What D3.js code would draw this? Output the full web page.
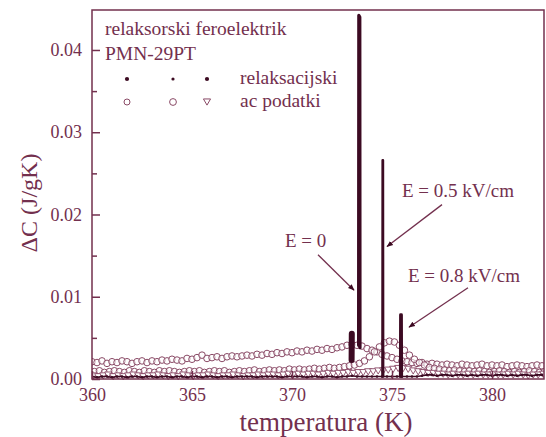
<!DOCTYPE html>
<html lang="sl">
<head>
<meta charset="UTF-8">
<title>relaksorski feroelektrik PMN-29PT</title>
<script src="https://d3js.org/d3.v7.min.js"></script>
<style>
  body { margin: 0; background: #fff; }
  svg text { font-family: "Liberation Serif", "Times New Roman", Tinos, "DejaVu Serif", serif !important; }
</style>
</head>
<body>
<script>
// temperature grid of the measurements (K)
const temps = [
  360, 360.25, 360.5, 360.75,
  361, 361.25, 361.5, 361.75,
  362, 362.25, 362.5, 362.75,
  363, 363.25, 363.5, 363.75,
  364, 364.25, 364.5, 364.75,
  365, 365.25, 365.5, 365.75,
  366, 366.25, 366.5, 366.75,
  367, 367.25, 367.5, 367.75,
  368, 368.25, 368.5, 368.75,
  369, 369.25, 369.5, 369.75,
  370, 370.25, 370.5, 370.75,
  371, 371.25, 371.5, 371.75,
  372, 372.25, 372.5, 372.75,
  373, 373.25, 373.5, 373.75,
  374, 374.25, 374.5, 374.75,
  375, 375.25, 375.5, 375.75,
  376, 376.25, 376.5, 376.75,
  377, 377.25, 377.5, 377.75,
  378, 378.25, 378.5, 378.75,
  379, 379.25, 379.5, 379.75,
  380, 380.25, 380.5, 380.75,
  381, 381.25, 381.5, 381.75,
  382, 382.25, 382.5
];

// ac podatki, E = 0 (circles)
const acE0 = [
  0.0021, 0.0020, 0.0022, 0.0019,
  0.0021, 0.0020, 0.0022, 0.0021,
  0.0019, 0.0021, 0.0022, 0.0020,
  0.0022, 0.0021, 0.0023, 0.0022,
  0.0024, 0.0023, 0.0022, 0.0025,
  0.0024, 0.0026, 0.0029, 0.0025,
  0.0026, 0.0027, 0.0025, 0.0027,
  0.0028, 0.0027, 0.0028, 0.0029,
  0.0028, 0.0030, 0.0029, 0.0031,
  0.0030, 0.0032, 0.0031, 0.0033,
  0.0032, 0.0034, 0.0033, 0.0035,
  0.0034, 0.0036, 0.0035, 0.0037,
  0.0036, 0.0038, 0.0039, 0.0041,
  0.0042, 0.0041, 0.0040, 0.0037,
  0.0035, 0.0033, 0.0030, 0.0028,
  0.0026, 0.0024, 0.0022, 0.0021,
  0.0020, 0.0019, 0.0020, 0.0018,
  0.0019, 0.0018, 0.0017, 0.0018,
  0.0017, 0.0016, 0.0018, 0.0017,
  0.0016, 0.0017, 0.0018, 0.0016,
  0.0017, 0.0016, 0.0017, 0.0015,
  0.0016, 0.0017, 0.0016, 0.0015,
  0.0016, 0.0017, 0.0016
];

// ac podatki, E = 0.5 kV/cm (circles)
const acE05 = [
  0.0009, 0.0010, 0.0008, 0.0009,
  0.0010, 0.0009, 0.0008, 0.0010,
  0.0009, 0.0008, 0.0010, 0.0009,
  0.0008, 0.0010, 0.0009, 0.0010,
  0.0009, 0.0008, 0.0009, 0.0010,
  0.0009, 0.0010, 0.0008, 0.0009,
  0.0010, 0.0009, 0.0010, 0.0008,
  0.0009, 0.0010, 0.0009, 0.0010,
  0.0011, 0.0009, 0.0010, 0.0011,
  0.0010, 0.0011, 0.0010, 0.0012,
  0.0011, 0.0012, 0.0011, 0.0012,
  0.0013, 0.0012, 0.0013, 0.0014,
  0.0013, 0.0014, 0.0015, 0.0016,
  0.0017, 0.0019, 0.0022, 0.0027,
  0.0033, 0.0039, 0.0044, 0.0046,
  0.0045, 0.0041, 0.0035, 0.0029,
  0.0024, 0.0020, 0.0017, 0.0014,
  0.0013, 0.0012, 0.0011, 0.0010,
  0.0011, 0.0010, 0.0009, 0.0010,
  0.0009, 0.0010, 0.0009, 0.0008,
  0.0009, 0.0010, 0.0009, 0.0008,
  0.0009, 0.0008, 0.0009, 0.0010,
  0.0009, 0.0008, 0.0009
];

// ac podatki, E = 0.8 kV/cm (triangles)
const acE08 = [
  0.0005, 0.0004, 0.0005, 0.0006,
  0.0004, 0.0005, 0.0004, 0.0005,
  0.0006, 0.0005, 0.0004, 0.0005,
  0.0005, 0.0006, 0.0005, 0.0004,
  0.0005, 0.0004, 0.0006, 0.0005,
  0.0004, 0.0005, 0.0005, 0.0006,
  0.0005, 0.0004, 0.0005, 0.0005,
  0.0006, 0.0005, 0.0004, 0.0005,
  0.0005, 0.0006, 0.0005, 0.0006,
  0.0006, 0.0005, 0.0006, 0.0007,
  0.0006, 0.0007, 0.0006, 0.0007,
  0.0007, 0.0006, 0.0007, 0.0008,
  0.0007, 0.0008, 0.0008, 0.0009,
  0.0008, 0.0009, 0.0009, 0.0010,
  0.0010, 0.0011, 0.0011, 0.0012,
  0.0013, 0.0014, 0.0014, 0.0013,
  0.0011, 0.0010, 0.0009, 0.0008,
  0.0008, 0.0007, 0.0007, 0.0006,
  0.0007, 0.0006, 0.0006, 0.0007,
  0.0006, 0.0007, 0.0006, 0.0006,
  0.0007, 0.0006, 0.0006, 0.0007,
  0.0006, 0.0007, 0.0006, 0.0005,
  0.0006, 0.0006, 0.0007
];

// relaksacijski podatki, baseline (dots)
const relaxBase = [
  0.0003, 0.0002, 0.0003, 0.0003,
  0.0002, 0.0003, 0.0003, 0.0002,
  0.0003, 0.0003, 0.0002, 0.0003,
  0.0003, 0.0002, 0.0003, 0.0003,
  0.0002, 0.0003, 0.0003, 0.0002,
  0.0003, 0.0003, 0.0002, 0.0003,
  0.0003, 0.0002, 0.0003, 0.0003,
  0.0002, 0.0003, 0.0003, 0.0003,
  0.0003, 0.0002, 0.0003, 0.0003,
  0.0003, 0.0003, 0.0002, 0.0003,
  0.0003, 0.0003, 0.0003, 0.0002,
  0.0003, 0.0003, 0.0002, 0.0003,
  0.0003, 0.0002, 0.0003, 0.0003,
  0.0004, 0.0003, 0.0003, 0.0003,
  0.0003, 0.0003, 0.0003, 0.0003,
  0.0003, 0.0003, 0.0003, 0.0003,
  0.0003, 0.0003, 0.0004, 0.0005,
  0.0005, 0.0004, 0.0005, 0.0005,
  0.0004, 0.0005, 0.0005, 0.0004,
  0.0005, 0.0004, 0.0005, 0.0005,
  0.0004, 0.0005, 0.0005, 0.0004,
  0.0005, 0.0004, 0.0005, 0.0005,
  0.0004, 0.0005, 0.0005
];

// relaksacijski podatki, latent heat peaks [T, dC]
const blobE0 = [[372.98, 0.0023], [372.99, 0.0055]];
const peakE0 = [[373.33, 0.0041], [373.34, 0.0442], [373.39, 0.0440], [373.40, 0.0038]];
const peakE05 = [[374.52, 0.0003], [374.53, 0.0266], [374.55, 0.0266], [374.56, 0.0003]];
const peakE08 = [[375.42, 0.0003], [375.43, 0.0078], [375.47, 0.0078], [375.48, 0.0003]];

const yTicks = [0, 0.01, 0.02, 0.03, 0.04];
const yMinor = [0.005, 0.015, 0.025, 0.035];
const xTicks = [360, 365, 370, 375, 380];

// annotations: label position and arrow [from, to] in data units
const notes = [
  {text: "E = 0", at: [369.65, 0.0160], from: [371.3, 0.0151], to: [373.1, 0.0108]},
  {text: "E = 0.5 kV/cm", at: [375.5, 0.0221], from: [377.5, 0.0212], to: [374.75, 0.0161]},
  {text: "E = 0.8 kV/cm", at: [375.8, 0.0118], from: [378.8, 0.0111], to: [375.85, 0.0063]}
];

const width = 546, height = 437;
const mLeft = 92, mRight = 544, mTop = 10, mBottom = 379;

const ink = "#73304e";
const dark = "#3c0a22";
const open = "#8a4a66";

const x = d3.scaleLinear().domain([360, 382.6]).range([mLeft, mRight]);
const y = d3.scaleLinear().domain([0, 0.04486]).range([mBottom, mTop]);

const svg = d3.select("body").append("svg")
  .attr("width", width)
  .attr("height", height);

svg.append("defs").append("marker")
  .attr("id", "head")
  .attr("viewBox", "0 0 10 10")
  .attr("refX", 9).attr("refY", 5)
  .attr("markerWidth", 5).attr("markerHeight", 5)
  .attr("orient", "auto")
  .append("path")
  .attr("d", "M0,1 L10,5 L0,9 z")
  .attr("fill", dark);

svg.append("clipPath").attr("id", "plot")
  .append("rect")
  .attr("x", mLeft).attr("y", mTop)
  .attr("width", mRight - mLeft).attr("height", mBottom - mTop + 1);

const g = svg.append("g").attr("clip-path", "url(#plot)");

// ac data
g.append("g").selectAll("circle.e0")
  .data(temps.map((t, i) => [t, acE0[i]]))
  .join("circle")
  .attr("cx", d => x(d[0])).attr("cy", d => y(d[1]))
  .attr("r", 3.3)
  .attr("fill", "#fff").attr("fill-opacity", 0.6)
  .attr("stroke", open).attr("stroke-width", 1);

g.append("g").selectAll("circle.e05")
  .data(temps.map((t, i) => [t + 0.12, acE05[i]]))
  .join("circle")
  .attr("cx", d => x(d[0])).attr("cy", d => y(d[1]))
  .attr("r", 3.3)
  .attr("fill", "#fff").attr("fill-opacity", 0.6)
  .attr("stroke", open).attr("stroke-width", 1);

const tri = d3.symbol().type(d3.symbolTriangle).size(22);
g.append("g").selectAll("path")
  .data(temps.map((t, i) => [t + 0.06, acE08[i]]))
  .join("path")
  .attr("d", tri)
  .attr("transform", d => `translate(${x(d[0])},${y(d[1])}) rotate(180)`)
  .attr("fill", "#fff")
  .attr("stroke", open).attr("stroke-width", 0.9);

// relaxation baseline
const line = d3.line().x(d => x(d[0])).y(d => y(d[1]));
const base = temps.map((t, i) => [t, relaxBase[i]]);
g.append("path")
  .attr("d", line(base))
  .attr("fill", "none")
  .attr("stroke", dark).attr("stroke-width", 1.6);
g.append("g").selectAll("circle")
  .data(base)
  .join("circle")
  .attr("cx", d => x(d[0])).attr("cy", d => y(d[1]))
  .attr("r", 1.3)
  .attr("fill", dark);

// relaxation peaks
[[blobE0, 6], [peakE0, 3.2], [peakE05, 2.4], [peakE08, 3]].forEach(([pts, w]) => {
  g.append("path")
    .attr("d", line(pts))
    .attr("fill", "none")
    .attr("stroke", dark)
    .attr("stroke-width", w)
    .attr("stroke-linejoin", "round")
    .attr("stroke-linecap", "round");
});

// frame
svg.append("rect")
  .attr("x", mLeft).attr("y", mTop)
  .attr("width", mRight - mLeft).attr("height", mBottom - mTop)
  .attr("fill", "none")
  .attr("stroke", ink).attr("stroke-width", 1.5);

// axes
svg.append("g")
  .attr("transform", `translate(${mLeft},0)`)
  .call(d3.axisLeft(y).tickValues(yTicks).tickFormat(d3.format(".2f"))
    .tickSize(-8).tickPadding(10));
svg.append("g")
  .attr("transform", `translate(${mLeft},0)`)
  .call(d3.axisLeft(y).tickValues(yMinor).tickFormat("").tickSize(-5));

svg.append("g")
  .attr("transform", `translate(0,${mBottom})`)
  .call(d3.axisBottom(x).tickValues(xTicks).tickFormat(d3.format("d"))
    .tickSize(-8).tickPadding(9));

svg.selectAll(".domain").remove();
svg.selectAll(".tick line").attr("stroke", ink).attr("stroke-width", 1.5);
svg.selectAll(".tick text")
  .attr("fill", ink)
  .attr("font-family", null)
  .style("font-size", "18px");

// axis titles
svg.append("text")
  .attr("x", 326).attr("y", 431)
  .attr("text-anchor", "middle")
  .attr("fill", ink)
  .style("font-size", "27px")
  .text("temperatura (K)");

svg.append("text")
  .attr("transform", "translate(37,203) rotate(-90)")
  .attr("text-anchor", "middle")
  .attr("fill", ink)
  .style("font-size", "24px")
  .text("ΔC (J/gK)");

// legend
svg.append("text").attr("x", 105).attr("y", 35)
  .attr("fill", ink).style("font-size", "19.5px")
  .text("relaksorski feroelektrik");
svg.append("text").attr("x", 105).attr("y", 60)
  .attr("fill", ink).style("font-size", "19.5px")
  .text("PMN-29PT");

const legendDots = [[127, 2.1], [173, 1.6], [207, 2.1]];
svg.append("g").selectAll("circle")
  .data(legendDots)
  .join("circle")
  .attr("cx", d => d[0]).attr("cy", 79)
  .attr("r", d => d[1])
  .attr("fill", dark);
svg.append("text").attr("x", 240).attr("y", 84)
  .attr("fill", ink).style("font-size", "19.5px")
  .text("relaksacijski");

svg.append("circle").attr("cx", 127).attr("cy", 102).attr("r", 3)
  .attr("fill", "none").attr("stroke", open);
svg.append("circle").attr("cx", 173).attr("cy", 102).attr("r", 3.4)
  .attr("fill", "none").attr("stroke", open);
svg.append("path")
  .attr("d", tri)
  .attr("transform", "translate(207,101) rotate(180)")
  .attr("fill", "none").attr("stroke", open);
svg.append("text").attr("x", 240).attr("y", 107)
  .attr("fill", ink).style("font-size", "19.5px")
  .text("ac podatki");

// annotations
const ann = svg.append("g");
ann.selectAll("text")
  .data(notes)
  .join("text")
  .attr("x", d => x(d.at[0])).attr("y", d => y(d.at[1]))
  .attr("fill", ink)
  .style("font-size", "19px")
  .text(d => d.text);
ann.selectAll("line")
  .data(notes)
  .join("line")
  .attr("x1", d => x(d.from[0])).attr("y1", d => y(d.from[1]))
  .attr("x2", d => x(d.to[0])).attr("y2", d => y(d.to[1]))
  .attr("stroke", ink).attr("stroke-width", 1.3)
  .attr("marker-end", "url(#head)");
</script>
</body>
</html>
